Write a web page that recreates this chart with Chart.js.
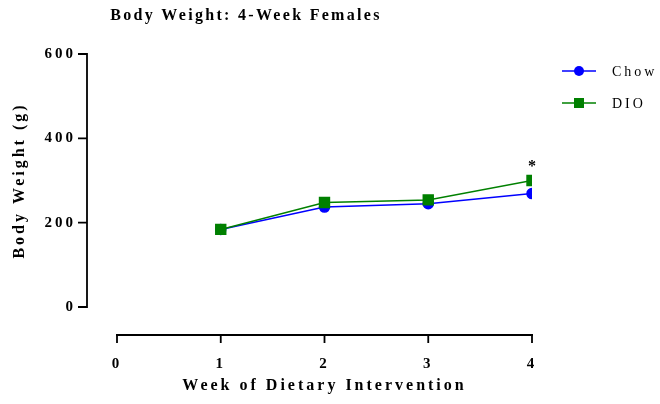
<!DOCTYPE html>
<html>
<head>
<meta charset="utf-8">
<script src="https://cdn.jsdelivr.net/npm/chart.js@4"></script>
<style>
  html, body { margin: 0; padding: 0; background: #fff; }
  #wrap { width: 660px; height: 404px; }
</style>
</head>
<body>
<div id="wrap"><canvas id="bwChart"></canvas></div>
<script>
// Body weight, 4-week females
const weeks = [1, 2, 3, 4]
const chowWeight = [184, 237, 245, 269]
const dioWeight = [184, 248, 254, 300]
const sigMarks = ["", "", "", "*"]
const yTicks = [0, 200, 400, 600]
const xTicks = [0, 1, 2, 3, 4]

const FONT = "'Liberation Serif', 'DejaVu Serif', serif"
Chart.defaults.font.family = FONT
Chart.defaults.color = "#000"

// Prism-like offset axes, legend, title and significance marks
const prismPlugin = {
  id: "prism",
  beforeLayout(chart) { chart.ctx.letterSpacing = "3px" },
  beforeDraw(chart) { chart.ctx.letterSpacing = "3px" },
  afterDraw(chart) {
    const ctx = chart.ctx
    const area = chart.chartArea
    const xs = chart.scales.x
    const ys = chart.scales.y
    ctx.save()
    ctx.strokeStyle = "#000"
    ctx.lineWidth = 1.8

    // y axis
    const ax = area.left - 30
    ctx.beginPath()
    ctx.moveTo(ax, ys.getPixelForValue(yTicks[yTicks.length - 1]) - 1)
    ctx.lineTo(ax, ys.getPixelForValue(yTicks[0]) + 1)
    yTicks.forEach((v) => {
      const py = ys.getPixelForValue(v)
      ctx.moveTo(ax - 9, py)
      ctx.lineTo(ax, py)
    })
    ctx.stroke()

    // x axis
    const ay = area.bottom + 28
    ctx.beginPath()
    ctx.moveTo(xs.getPixelForValue(xTicks[0]) - 1, ay)
    ctx.lineTo(xs.getPixelForValue(xTicks[xTicks.length - 1]) + 1, ay)
    xTicks.forEach((v) => {
      const px = xs.getPixelForValue(v)
      ctx.moveTo(px, ay)
      ctx.lineTo(px, ay + 8)
    })
    ctx.stroke()

    // title
    ctx.fillStyle = "#000"
    ctx.letterSpacing = "2.3px"
    ctx.font = "bold 16px " + FONT
    ctx.textAlign = "center"
    ctx.textBaseline = "middle"
    ctx.fillText("Body Weight: 4-Week Females", 246, 16)

    // significance
    ctx.font = "bold 16px " + FONT
    ctx.letterSpacing = "0px"
    sigMarks.forEach((m, i) => {
      if (!m) return
      const px = xs.getPixelForValue(weeks[i])
      const py = ys.getPixelForValue(Math.max(chowWeight[i], dioWeight[i]))
      ctx.fillText(m, px, py - 14)
    })

    // legend
    ctx.font = "14px " + FONT
    ctx.letterSpacing = "3px"
    ctx.textAlign = "left"
    chart.data.datasets.forEach((ds, i) => {
      const ly = 71 + i * 32
      ctx.strokeStyle = ds.borderColor
      ctx.lineWidth = 1.5
      ctx.beginPath()
      ctx.moveTo(562, ly)
      ctx.lineTo(596, ly)
      ctx.stroke()
      ctx.fillStyle = ds.backgroundColor
      if (ds.pointStyle === "rect") {
        ctx.fillRect(574, ly - 5, 10, 10)
      } else {
        ctx.beginPath()
        ctx.arc(579, ly, 5, 0, Math.PI * 2)
        ctx.fill()
      }
      ctx.fillStyle = "#000"
      ctx.fillText(ds.label, 612, ly + 1)
    })
    ctx.restore()
  },
}

const ctx = document.getElementById("bwChart")
new Chart(ctx, {
  type: "line",
  data: {
    datasets: [
      {
        label: "Chow",
        data: weeks.map((w, i) => ({ x: w, y: chowWeight[i] })),
        borderColor: "#0000ff",
        backgroundColor: "#0000ff",
        borderWidth: 1.5,
        pointStyle: "circle",
        pointRadius: 5,
        order: 1,
      },
      {
        label: "DIO",
        data: weeks.map((w, i) => ({ x: w, y: dioWeight[i] })),
        borderColor: "#008000",
        backgroundColor: "#008000",
        borderWidth: 1.5,
        pointStyle: "rect",
        pointRadius: 7,
        order: 0,
      },
    ],
  },
  options: {
    responsive: true,
    maintainAspectRatio: false,
    animation: false,
    layout: { padding: { top: 54, right: 128, left: 0, bottom: 0 } },
    plugins: {
      legend: { display: false },
      tooltip: { enabled: false },
    },
    scales: {
      x: {
        type: "linear",
        min: 0,
        max: 4,
        afterBuildTicks: (scale) => { scale.ticks = xTicks.map((v) => ({ value: v })) },
        afterFit: (scale) => { scale.height = 97 },
        grid: { display: false, drawTicks: false },
        border: { display: false },
        ticks: { padding: 48, font: { size: 15, weight: "bold" } },
        title: {
          display: true,
          text: "Week of Dietary Intervention",
          font: { size: 16, weight: "bold" },
          padding: { top: 0, bottom: 9 },
        },
      },
      y: {
        min: 0,
        max: 600,
        afterBuildTicks: (scale) => { scale.ticks = yTicks.map((v) => ({ value: v })) },
        afterFit: (scale) => { scale.width = 117 },
        grid: { display: false, drawTicks: false },
        border: { display: false },
        ticks: { padding: 41, font: { size: 15, weight: "bold" } },
        title: {
          display: true,
          text: "Body Weight (g)",
          font: { size: 16, weight: "bold" },
          padding: { top: 10, bottom: 0 },
        },
      },
    },
  },
  plugins: [prismPlugin],
})
</script>
</body>
</html>
